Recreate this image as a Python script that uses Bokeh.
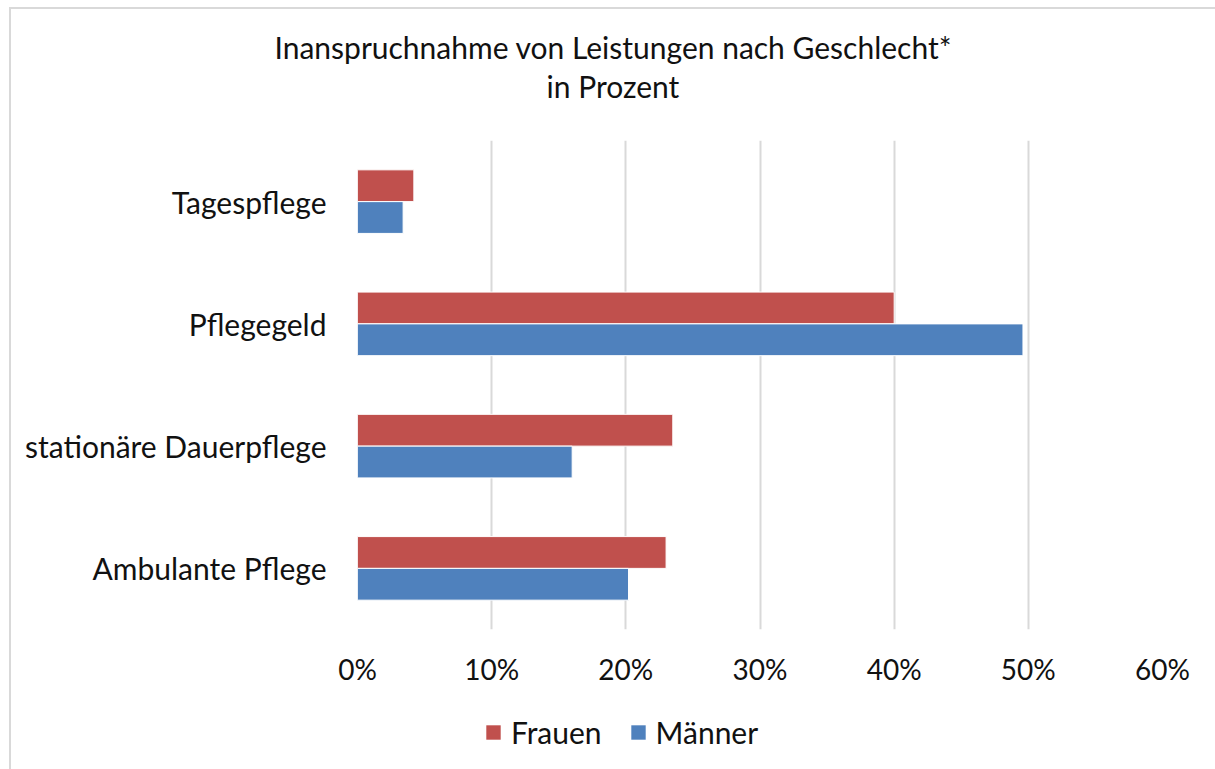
from bokeh.plotting import figure
from bokeh.layouts import column
from bokeh.models import (ColumnDataSource, FactorRange, Range1d, FixedTicker,
                          PrintfTickFormatter, Legend, LegendItem, Div)
from bokeh.transform import dodge
from bokeh.embed import file_html
from bokeh.resources import INLINE

categories = ["Ambulante Pflege", "stationäre Dauerpflege", "Pflegegeld", "Tagespflege"]
frauen = [23.0, 23.5, 40.0, 4.2]
maenner = [20.2, 16.0, 49.6, 3.4]
x_ticks = [0, 10, 20, 30, 40, 50, 60]
title_lines = ["Inanspruchnahme von Leistungen nach Geschlecht*", "in Prozent"]
series_names = ["Frauen", "Männer"]

FONT = "Lato"
TXT = "#111111"
RED = "#C0504D"
BLUE = "#4F81BD"
W = 1215
FRAME_L, FRAME_R = 357, 1162   # frame edges (pixels) shared by the stacked figures


def bare(fig):
    fig.outline_line_color = None
    fig.background_fill_alpha = 0
    fig.border_fill_alpha = 0
    return fig


# ---- title strip ----
title_html = (
    f'<div style="width:{W}px; box-sizing:border-box; text-align:center; '
    f'font-family:{FONT}; font-size:30px; line-height:39px; color:{TXT}; '
    f'padding-top:28px; padding-left:11px;">'
    + "<br>".join(title_lines) + "</div>"
)
pt = Div(text=title_html, width=W, height=140, margin=0)

# ---- main chart ----
src = ColumnDataSource(dict(cat=categories, frauen=frauen, maenner=maenner))
p = bare(figure(width=W, height=560, output_backend="svg", toolbar_location=None,
                y_range=FactorRange(*categories), x_range=Range1d(0, 60),
                min_border_left=FRAME_L, min_border_right=W - FRAME_R, min_border_top=0,
                min_border_bottom=71))

p.hbar(y=dodge("cat", 0.13, range=p.y_range), left=0, right="frauen", height=0.26,
       source=src, fill_color=RED, line_color="white", line_width=1)
p.hbar(y=dodge("cat", -0.13, range=p.y_range), left=0, right="maenner", height=0.26,
       source=src, fill_color=BLUE, line_color="white", line_width=1)

p.ygrid.grid_line_color = None
p.xgrid.grid_line_color = "#d9d9d9"
p.xgrid.grid_line_width = 2
p.xaxis.ticker = FixedTicker(ticks=x_ticks)
p.xaxis.formatter = PrintfTickFormatter(format="%d%%")
for ax in (p.xaxis, p.yaxis):
    ax.axis_line_color = None
    ax.major_tick_line_color = None
    ax.minor_tick_line_color = None
    ax.major_label_text_font = FONT
    ax.major_label_text_color = TXT
p.xaxis.major_label_text_font_size = "28px"
p.xaxis.major_label_standoff = 16
p.yaxis.major_label_text_font_size = "30px"
p.yaxis.major_label_standoff = 25

# ---- legend strip ----
pl = bare(figure(width=W, height=69, output_backend="svg", toolbar_location=None,
                 x_range=Range1d(0, 1), y_range=Range1d(0, 1),
                 x_axis_location=None, y_axis_location=None, min_border=0,
                 min_border_left=FRAME_L, min_border_right=W - FRAME_R))
pl.grid.visible = False
# legend proxies: zero-size bars placed outside the visible range
proxy = ColumnDataSource(dict(y=[-5], r=[-5]))
lr_f = pl.hbar(y="y", right="r", left=-5, height=0.1, source=proxy, fill_color=RED, line_color=None)
lr_m = pl.hbar(y="y", right="r", left=-5, height=0.1, source=proxy, fill_color=BLUE, line_color=None)
legend = Legend(items=[LegendItem(label=series_names[0], renderers=[lr_f]),
                       LegendItem(label=series_names[1], renderers=[lr_m])],
                orientation="horizontal", location=(484 - FRAME_L, 19),
                label_text_font=FONT, label_text_font_size="30px", label_text_color=TXT,
                glyph_width=18, glyph_height=18, label_standoff=9, spacing=27,
                padding=0, margin=0, border_line_color=None, background_fill_alpha=0)
pl.add_layout(legend, "center")

layout = column(pt, p, pl, spacing=0)
layout.styles = {
    "background": "linear-gradient(#d9d9d9,#d9d9d9) 9px 7px / 2px 100% no-repeat,"
                  " linear-gradient(#d9d9d9,#d9d9d9) 9px 7px / 100% 2px no-repeat"
}

open("out.html", "w").write(file_html(layout, INLINE))
